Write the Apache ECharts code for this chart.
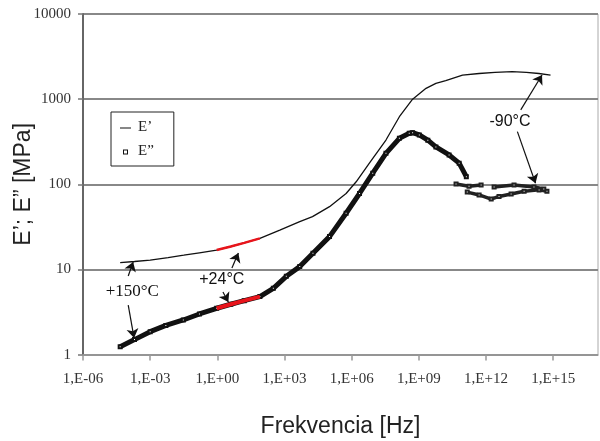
<!DOCTYPE html>
<html><head><meta charset="utf-8">
<script src="https://cdn.jsdelivr.net/npm/echarts@6/dist/echarts.min.js"></script>
<style>html,body{margin:0;padding:0;background:#fff}#c{width:600px;height:441px}</style>
</head><body><div id="c"></div>
<script>
// x values are log10(frequency in Hz)
var xTickExps = [-6, -3, 0, 3, 6, 9, 12, 15];
var yTicks = [1, 10, 100, 1000, 10000];

// E' (storage modulus), thin line
var logF1 = [-4.34, -3.7, -3.0, -2.2, -1.5, -0.8, -0.03, 0.6, 1.2, 1.9, 2.79, 3.68, 4.25, 5.01, 5.75, 6.2, 6.79, 7.53, 8.13, 8.72, 9.32, 9.76, 10.2, 10.95, 11.69, 12.4, 13.17, 13.8, 14.36, 14.88];
var E1 = [12.0, 12.4, 12.9, 13.8, 14.7, 15.7, 16.9, 18.6, 20.5, 23.2, 29, 36.4, 41.7, 54.6, 78, 107, 177, 331, 622, 1000, 1340, 1535, 1650, 1920, 2000, 2060, 2100, 2060, 2000, 1920];
// E' at +24°C (red part)
var logF1r = [-0.03, 0.6, 1.2, 1.9];
var E1r = [16.9, 18.6, 20.5, 23.2];

// E'' (loss modulus), square markers
var logF2 = [-4.34, -3.7, -3.0, -2.3, -1.52, -0.8, -0.03, 0.6, 1.2, 1.9, 2.5, 3.08, 3.68, 4.27, 5.01, 5.75, 6.35, 6.94, 7.53, 8.13, 8.57, 8.72, 9.02, 9.4, 9.76, 10.35, 10.8, 11.12];
var E2 = [1.24, 1.5, 1.86, 2.2, 2.55, 3.0, 3.5, 3.9, 4.3, 4.8, 6.0, 8.3, 10.8, 15.5, 24.3, 45.7, 78, 135, 231, 347, 398, 404, 380, 330, 275, 221, 177, 123];
var logF2r = [-0.03, 0.6, 1.2, 1.9];
var E2r = [3.5, 3.9, 4.3, 4.8];
// E'' at -90°C (scattered cluster, '-' = gap)
var logF2c = [10.66, 11.24, 11.78, '-', 11.16, 11.69, 12.23, 12.58, 13.12, 13.7, 14.37, 14.72, '-', 12.36, 13.25, 14.14, 14.58];
var E2c = [101, 95, 98, '-', 81, 75, 67, 72, 77, 83, 86, 83, '-', 93, 98, 93, 88];

// annotations
var notes = [
  {text: '+150°C', x: -3.8, y: 5.5, serif: true},
  {text: '+24°C', x: 0.2, y: 7.5, serif: false},
  {text: '-90°C', x: 13.07, y: 543, serif: false}
];
var arrows = [
  [[-3.98, 8.37], [-3.76, 12.2]],
  [[-3.98, 3.82], [-3.72, 1.57]],
  [[0.65, 10.4], [0.94, 15.6]],
  [[0.25, 5.43], [0.49, 4.15]],
  [[13.55, 747], [14.5, 1923]],
  [[13.4, 415], [14.21, 103]]
];

function pairs(xs, ys) { return xs.map(function (x, i) { return (x === '-' ? '-' : [x, ys[i]]); }); }

var serif = '"Liberation Serif", "DejaVu Serif", serif';
var sans = '"Liberation Sans", Arial, sans-serif';

var chart = echarts.init(document.getElementById('c'), null, {renderer: 'canvas'});
chart.setOption({
  animation: false,
  backgroundColor: '#fff',
  grid: {left: 83, top: 14, width: 515, height: 340.6, show: true, borderColor: '#aaa', borderWidth: 1,
    containLabel: false, outerBoundsMode: 'none'},
  legend: {
    orient: 'vertical', left: 111, top: 112, padding: [8, 20, 7, 8], itemGap: 9,
    borderColor: '#222', borderWidth: 1, itemWidth: 14, itemHeight: 12,
    textStyle: {fontFamily: serif, fontSize: 15, color: '#222'},
    data: [
      {name: 'E’', icon: 'path://M0,0 L0.01,0 Z M14,12 L14.01,12 Z M1,6 L12,6 L12,7 L1,7 Z', itemStyle: {color: '#111'}},
      {name: 'E”', icon: 'path://M0,0 L0.01,0 Z M14,12 L14.01,12 Z M4,4 L9,4 L9,9 L4,9 Z M5,5 L5,8 L8,8 L8,5 Z', itemStyle: {color: '#111'}}
    ]
  },
  xAxis: {
    type: 'value', min: -6, max: 17, interval: 3,
    name: 'Frekvencia [Hz]', nameLocation: 'middle', nameGap: 61, nameMoveOverlap: false,
    nameTextStyle: {fontFamily: sans, fontSize: 23, color: '#222'},
    axisLine: {show: true, onZero: false, lineStyle: {color: '#999', width: 1.5}},
    axisTick: {show: true, length: 6, customValues: xTickExps, lineStyle: {color: '#999', width: 1.5}},
    splitLine: {show: false},
    axisLabel: {
      customValues: xTickExps, margin: 17, fontFamily: serif, fontSize: 15, color: '#333',
      formatter: function (v) { var a = Math.abs(v); return '1,E' + (v < 0 ? '-' : '+') + (a < 10 ? '0' : '') + a; }
    }
  },
  yAxis: {
    type: 'log', logBase: 10, min: 1, max: 10000,
    name: 'E’; E” [MPa]', nameLocation: 'middle', nameGap: 48, nameMoveOverlap: false,
    nameTextStyle: {fontFamily: sans, fontSize: 23, color: '#222'},
    axisLine: {show: true, onZero: false, lineStyle: {color: '#666', width: 2}},
    axisTick: {show: true, length: 5, lineStyle: {color: '#777', width: 1.5}},
    splitLine: {show: true, lineStyle: {color: '#888', width: 2}},
    axisLabel: {margin: 12, fontFamily: serif, fontSize: 15, color: '#333',
      formatter: function (v) { return String(Math.round(v)); }}
  },
  series: [
    {
      name: 'E’', type: 'line', data: pairs(logF1, E1), symbol: 'none', z: 3,
      lineStyle: {color: '#111', width: 1.3}, itemStyle: {color: '#111'},
      markLine: {
        silent: true, symbol: ['none', 'arrow'], symbolSize: 9, label: {show: false},
        lineStyle: {color: '#111', width: 1.2, type: 'solid'},
        itemStyle: {color: '#111'},
        data: arrows.map(function (a) { return [{coord: a[0]}, {coord: a[1]}]; })
      },
      markPoint: {
        silent: true, symbol: 'circle', symbolSize: 0,
        data: notes.map(function (n) {
          return {coord: [n.x, n.y], label: {show: true, position: 'inside', formatter: n.text,
            fontFamily: n.serif ? serif : sans, fontSize: n.serif ? 17 : 16, color: '#111'}};
        })
      }
    },
    {
      name: 'E”', type: 'line', data: pairs(logF2, E2), symbol: 'emptyRect', symbolSize: 3, showSymbol: true, z: 3,
      lineStyle: {color: '#111', width: 5}, itemStyle: {color: '#111', borderColor: '#111'}
    },
    {
      name: 'E”c', type: 'line', data: pairs(logF2c, E2c), symbol: 'emptyRect', symbolSize: 3, connectNulls: false, z: 3,
      lineStyle: {color: '#222', width: 3.5}, itemStyle: {color: '#222'}
    },
    {
      name: 'E’r', type: 'line', data: pairs(logF1r, E1r), symbol: 'none', z: 4,
      lineStyle: {color: '#e8141b', width: 2.5}
    },
    {
      name: 'E”r', type: 'line', data: pairs(logF2r, E2r), symbol: 'none', z: 4,
      lineStyle: {color: '#e8141b', width: 4}
    }
  ]
});
</script></body></html>
